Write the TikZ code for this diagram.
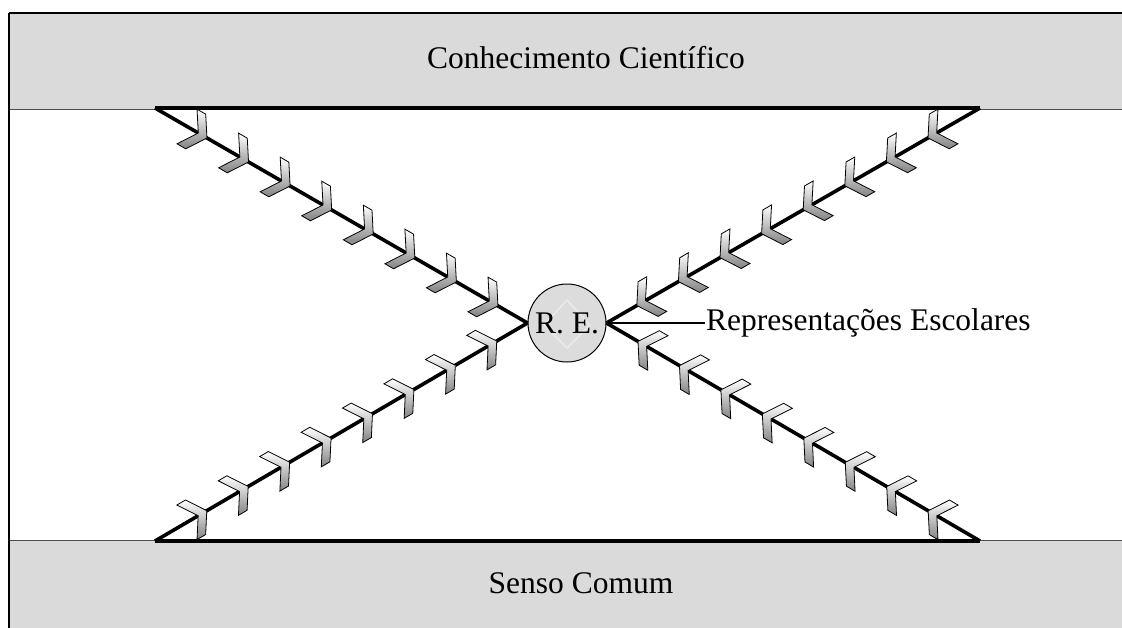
\documentclass[tikz,border=0pt]{standalone}
\usepackage{fontspec}
\setmainfont{Liberation Serif}
\usetikzlibrary{decorations.markings}
\definecolor{bandgray}{HTML}{DADADA}
\definecolor{ballgray}{HTML}{DCDCDC}

\begin{document}
\begin{tikzpicture}[x=1pt,y=-1pt,
  band/.style={fill=bandgray,draw=gray!60!black,line width=0.8pt},
  frame/.style={line width=2pt},
  chev/.style={draw=black,line width=0.8pt,top color=white,bottom color=gray!60!black!70},
  feather/.style={line width=3.6pt,postaction={decorate},
    decoration={markings,mark=between positions 59pt and 400pt step 48pt with
      {\path[chev] (1,0) -- (-12,20) -- (-22,20) -- (-9,0) -- (-22,-20) -- (-12,-20) -- cycle;}}}]
\fontsize{31.5}{38}\selectfont
\fill[white] (0,0) rectangle (1122,627);
\useasboundingbox (0,0) rectangle (1122,627);

%% bands
\filldraw[band] (9,13) rectangle (1135,109);
\filldraw[band] (9,540) rectangle (1135,640);
\draw[frame] (9,13) -- (1135,13);
\draw[frame] (9,13) -- (9,640);
\node (sci) at (586,58) {Conhecimento Científico};
\node (senso) at (581,583) {Senso Comum};

%% ends of the cross
\coordinate (tl) at (155,108);
\coordinate (tr) at (980,108);
\coordinate (bl) at (155,541);
\coordinate (br) at (980,541);
\draw[line width=3.4pt] (tl) -- (tr);
\draw[line width=3.4pt] (bl) -- (br);

%% R. E.
\node[circle,draw,fill=ballgray,line width=1pt,minimum size=78pt,inner sep=0pt] (re) at (567,323) {};
\draw[white!50!ballgray,line width=1.2pt] (567,300) -- (590,325) -- (567,348) -- (544,325) -- cycle;
\node (retext) at (re.center) {R. E.};
\node[anchor=west,inner sep=1pt] (lbl) at (705,323) {Representações Escolares};
\draw[line width=1.3pt] (re.east) -- (lbl.west);

%% arrows
\draw[feather] (tl) -- (re.west);
\draw[feather] (bl) -- (re.west);
\draw[feather] (tr) -- (re.east);
\draw[feather] (br) -- (re.east);
\end{tikzpicture}
\end{document}
